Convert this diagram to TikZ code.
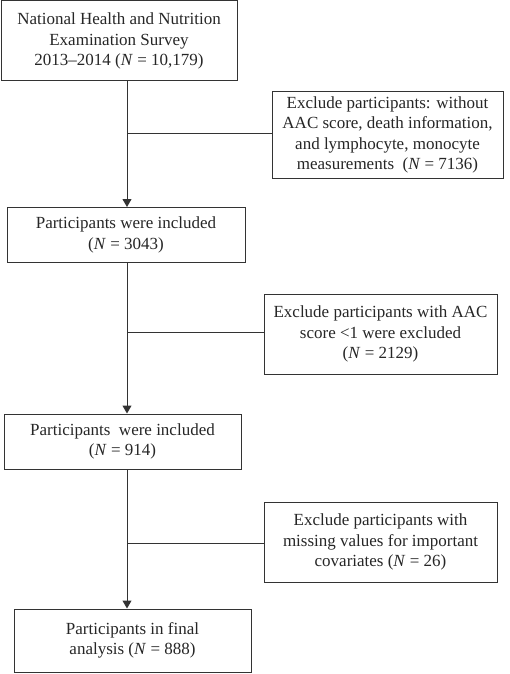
\documentclass[tikz,border=0pt]{standalone}
\usepackage{fontspec}
\setmainfont{Liberation Serif}
\usetikzlibrary{arrows.meta}
\begin{document}
\begin{tikzpicture}[x=1pt,y=-1pt,
  box/.style={draw=black!80,line width=1pt,align=center,inner sep=2pt,
    font=\fontsize{17}{20.5}\selectfont,text=black!85},
  link/.style={draw=black!80,line width=1pt},
  arr/.style={link,-{Triangle[length=8pt,width=9pt]}}]
\useasboundingbox (0,0) rectangle (510,674);
\node[box,minimum width=236,minimum height=80] (b1) at (119,41)
  {National Health and Nutrition\\Examination Survey\\2013--2014 (\textit{N} = 10,179)};
\node[box,minimum width=231,minimum height=86] (e1) at (387.5,135)
  {Exclude participants: without\\AAC score, death information,\\and lymphocyte, monocyte\\measurements~ (\textit{N} = 7136)};
\node[box,minimum width=238,minimum height=54.5] (b2) at (126,234.75)
  {Participants were included\\(\textit{N} = 3043)};
\node[box,minimum width=233,minimum height=80] (e2) at (380.5,334)
  {Exclude participants with AAC\\score <1 were excluded\\(\textit{N} = 2129)};
\node[box,minimum width=237,minimum height=55] (b3) at (122.5,441.5)
  {Participants~ were included\\(\textit{N} = 914)};
\node[box,minimum width=233,minimum height=80] (e3) at (380.5,542)
  {Exclude participants with\\missing values for important\\covariates (\textit{N} = 26)};
\node[box,minimum width=237,minimum height=63] (b4) at (132.5,640.5)
  {Participants in final\\analysis (\textit{N} = 888)};
\coordinate (spine) at (127,0);
\coordinate (j1) at (127,133);
\coordinate (j2) at (127,332);
\coordinate (j3) at (127,543);
\draw[arr] (b1.south -| spine) -- (b2.north -| spine);
\draw[arr] (b2.south -| spine) -- (b3.north -| spine);
\draw[arr] (b3.south -| spine) -- (b4.north -| spine);
\draw[link] (j1) -- (j1 -| e1.west);
\draw[link] (j2) -- (j2 -| e2.west);
\draw[link] (j3) -- (j3 -| e3.west);
\end{tikzpicture}
\end{document}
